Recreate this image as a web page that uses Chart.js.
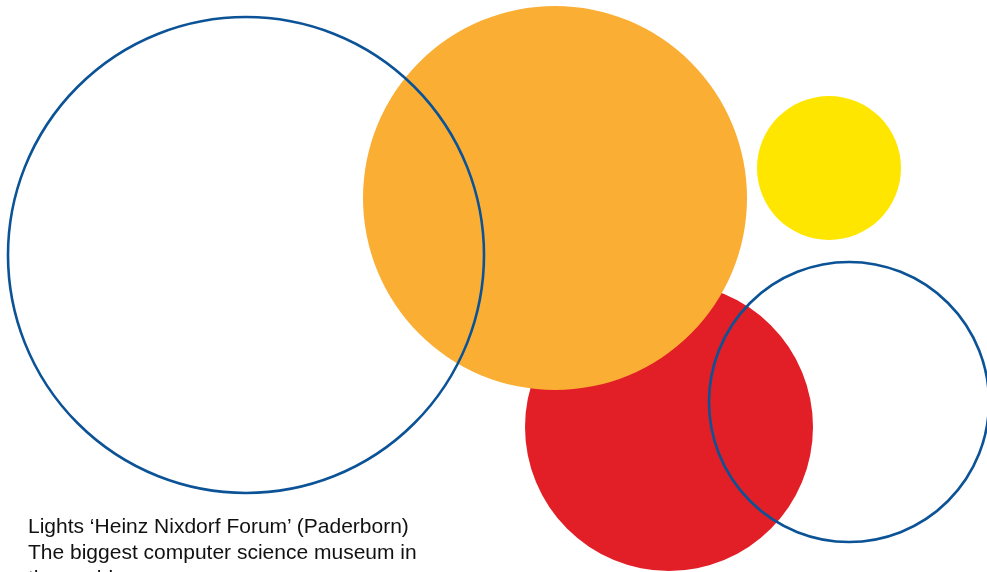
<!DOCTYPE html>
<html>
<head>
<meta charset="utf-8">
<script src="https://cdn.jsdelivr.net/npm/chart.js@4.4.1/dist/chart.umd.min.js"></script>
<style>
  html, body { margin: 0; padding: 0; background: #fff; overflow: hidden; }
  .wrap { position: relative; width: 987px; height: 572px; }
  #grafico { position: absolute; left: 0; top: 0; }
  .legenda {
    position: absolute; left: 28px; top: 513px;
    font-family: "Liberation Sans", Arial, sans-serif;
    font-size: 21px; line-height: 26px; color: #111;
    white-space: nowrap;
  }
</style>
</head>
<body>
<div class="wrap">
  <canvas id="grafico" width="987" height="572"></canvas>
  <div class="legenda">Lights ‘Heinz Nixdorf Forum’ (Paderborn)<br>The biggest computer science museum in<br>the world</div>
</div>
<script>
// dados das bolhas (ordem = ordem de desenho)
const nomes   = ["Vermelho", "Laranja", "Amarelo", "Azul grande", "Azul pequeno"]
const xs      = [669, 555, 829, 246, 849]
const ys      = [427, 198, 168, 255, 402]
const raios   = [144, 192, 72, 238, 140]

const cores   = ["#e21e26", "#faaf34", "#ffe600", "rgba(0,0,0,0)", "rgba(0,0,0,0)"]
const bordas  = ["#e21e26", "#faaf34", "#ffe600", "#0b5396", "#0b5396"]
const larg    = [0, 0, 0, 2.6, 2.6]

let pontos = []
for(let i = 0; i < nomes.length; i++){
    pontos.push({ x: xs[i], y: ys[i], r: raios[i] })
}

const GP = document.getElementById("grafico")

new Chart(GP, {
    type: "bubble",
    data: {
        datasets: [{
            label: "bolhas",
            data: pontos,
            backgroundColor: cores,
            borderColor: bordas,
            borderWidth: larg,
            hoverRadius: 0,
            clip: false
        }]
    },
    options: {
        responsive: false,
        animation: false,
        events: [],
        layout: { padding: 0, autoPadding: false },
        plugins: { legend: { display: false }, tooltip: { enabled: false } },
        scales: {
            x: { display: false, min: 0, max: 987 },
            y: { display: false, min: 0, max: 572, reverse: true }
        }
    }
})
</script>
</body>
</html>
